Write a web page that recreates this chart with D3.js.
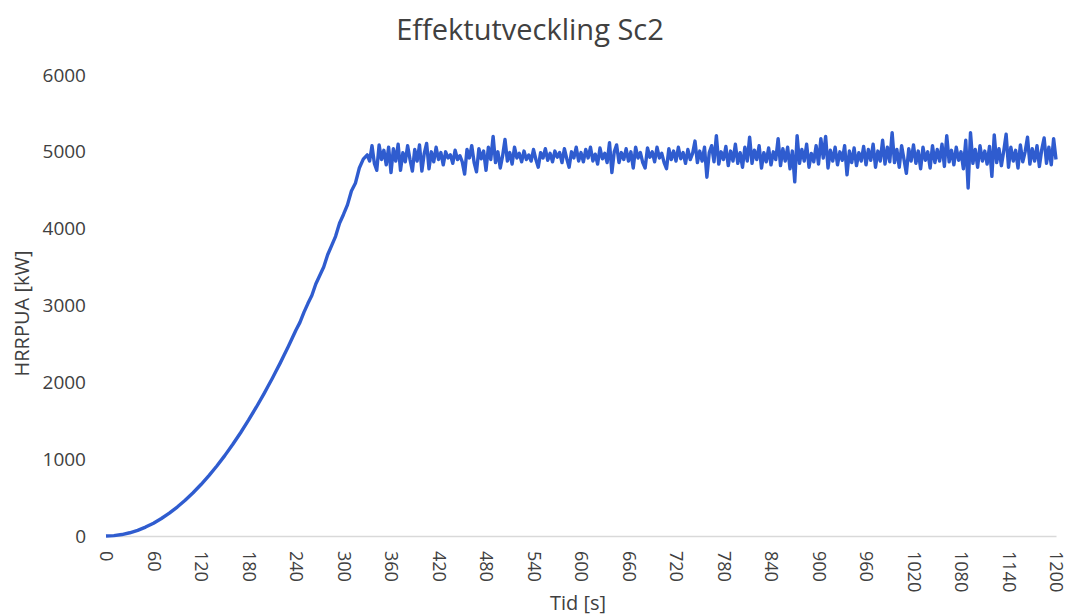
<!DOCTYPE html>
<html lang="sv">
  <head>
    <meta charset="UTF-8" />
    <title>Effektutveckling Sc2</title>
    <script src="https://cdn.jsdelivr.net/npm/d3@7"></script>
    <style>
      body { margin: 0; background: #fff; }
      text { font-family: 'Open Sans', sans-serif; fill: #404040; }
    </style>
  </head>
  <body>
    <div class="chart"></div>
    <script>
      // tillväxtfas (tid, effekt)
      var rampTime = [0, 10, 20, 30, 40, 50, 60, 70, 80, 90, 100, 110, 120, 130, 140, 150, 160, 170, 180, 190, 200,
        205, 210, 215, 220, 225, 230, 235, 240, 245, 250, 255, 260, 265, 270, 275, 280, 285, 290, 295, 300,
        305, 310, 315, 320, 325]
      var rampHrr = [0, 5, 19, 42, 74, 116, 167, 228, 298, 377, 465, 563, 670, 786, 911, 1046, 1190, 1344, 1507, 1679, 1860,
        1955, 2050, 2150, 2250, 2355, 2460, 2570, 2680, 2780, 2910, 3025, 3130, 3280, 3390, 3500, 3660, 3780, 3900, 4070, 4185,
        4310, 4490, 4590, 4790, 4905]

      // stationär fas, ett värde var 3:e sekund från 330 s
      var plateauStart = 330
      var plateauStep = 3
      var plateauHrr = [
        4960, 4880, 5080, 4850, 4760, 5090, 4900, 5020, 4830, 5060,
        4730, 5040, 4880, 5100, 4760, 4990, 4870, 5080, 4900, 4750,
        5030, 4880, 5090, 4750, 4980, 5110, 4780, 5000, 4870, 5060,
        4900, 4990, 4830, 5000, 4920, 4960, 4850, 5020, 4900, 4950,
        4870, 4710, 5030, 4920, 5080, 4860, 4740, 5040, 4910, 5010,
        4760, 5060, 4900, 5200, 4860, 5000, 4790, 4950, 5160, 4880,
        4990, 4840, 5060, 4920, 4980, 4870, 5010, 4900, 4960, 4880,
        5030, 4900, 4800, 4990, 4920, 5040, 4890, 4980, 4870, 5010,
        4930, 4990, 4860, 5040, 4910, 4800, 5000, 4920, 5060, 4880,
        4990, 4870, 5030, 4920, 5060, 4880, 4970, 4840, 5050, 4910,
        4980, 4860, 5120, 4730, 5000, 5090, 4860, 4990, 4900, 5040,
        4880, 5000, 4790, 5060, 4920, 4990, 4860, 4790, 5050, 4930,
        5000, 4870, 5060, 4920, 4980, 4860, 4780, 5040, 4900, 5010,
        4880, 5060, 4910, 4990, 4850, 5030, 4900, 4980, 5140, 4860,
        5010, 4880, 5060, 4670, 4990, 5080, 4870, 5210, 4840, 5000,
        4900, 5070, 4820, 5010, 4880, 5100, 4850, 4990, 4800, 5060,
        4880, 5190, 4850, 5020, 4900, 5080, 4790, 4990, 4870, 5050,
        4830, 5000, 4900, 5170, 4820, 5040, 4880, 5060, 4780, 5010,
        4610, 5210, 4850, 5030, 4880, 5100, 4800, 4980, 4870, 5080,
        4840, 5170, 4920, 5200, 4790, 5020, 4880, 5060, 4830, 5000,
        4890, 5080, 4700, 5010, 4860, 5050, 4820, 4990, 4880, 5070,
        4830, 5030, 4890, 5100, 4800, 5010, 4880, 5150, 4840, 5060,
        4870, 5250, 4860, 5030, 4800, 5080, 4900, 4720, 5040, 4880,
        5090, 4850, 5010, 4780, 5060, 4890, 5000, 4790, 5080, 4860,
        5030, 4880, 5100, 4810, 5210, 4870, 5020, 4830, 5060, 4890,
        5000, 4780, 5150, 4530, 5250, 4850, 5030, 4800, 5080, 4880,
        5010, 4840, 5070, 4680, 5220, 4860, 5040, 4820, 5010, 5230,
        4800, 5060, 4880, 5020, 4790, 5090, 4870, 5000, 5190, 4840,
        5040, 4880, 5080, 4810, 5030, 5180, 4850, 5060, 4830, 5170,
        4900
      ]

      var xTicks = d3.range(0, 1201, 60)
      var yTicks = [0, 1000, 2000, 3000, 4000, 5000, 6000]

      // sätt ihop serien
      var series = rampTime.map((t, i) => [t, rampHrr[i]])
      plateauHrr.forEach((v, i) => series.push([plateauStart + i * plateauStep, v]))

      var width = 1075
      var height = 616
      var plotLeft = 106
      var plotRight = 1056
      var plotTop = 75
      var plotBottom = 536

      var svg = d3.select('.chart').append('svg').attr('width', width).attr('height', height)

      var x = d3.scaleLinear().domain([0, 1200]).range([plotLeft, plotRight])
      var y = d3.scaleLinear().domain([0, 6000]).range([plotBottom, plotTop])

      // x-axel
      var xAxis = svg
        .append('g')
        .attr('transform', `translate(0, ${plotBottom})`)
        .call(d3.axisBottom(x).tickValues(xTicks).tickFormat(d3.format('d')).tickSize(0).tickPadding(0))
      xAxis.select('.domain').attr('stroke', '#d9d9d9').attr('stroke-width', 1.5)
      xAxis
        .selectAll('.tick text')
        .attr('transform', 'translate(0, 15) rotate(90)')
        .attr('dy', '0.35em')
        .attr('y', 0)
        .attr('x', 0)
        .style('text-anchor', 'start')
        .style('font-size', '18px')
        .style('font-family', "'Open Sans', sans-serif")
        .attr('fill', '#404040')

      // y-axel
      var yAxis = svg
        .append('g')
        .attr('transform', `translate(${plotLeft}, 0)`)
        .call(d3.axisLeft(y).tickValues(yTicks).tickFormat(d3.format('d')).tickSize(0).tickPadding(20))
      yAxis.select('.domain').remove()
      yAxis
        .selectAll('.tick text')
        .style('font-size', '19px')
        .style('font-family', "'Open Sans', sans-serif")
        .attr('fill', '#404040')

      // linjen
      var line = d3
        .line()
        .x((d) => x(d[0]))
        .y((d) => y(d[1]))
      svg
        .append('path')
        .datum(series)
        .attr('fill', 'none')
        .attr('stroke', '#2f5ccf')
        .attr('stroke-width', 3.4)
        .attr('stroke-linejoin', 'round')
        .attr('d', line)

      // titlar
      svg
        .append('text')
        .attr('x', 530)
        .attr('y', 40)
        .attr('text-anchor', 'middle')
        .style('font-size', '29px')
        .text('Effektutveckling Sc2')

      svg
        .append('text')
        .attr('transform', `translate(29, ${(plotTop + plotBottom) / 2 + 8}) rotate(-90)`)
        .attr('text-anchor', 'middle')
        .style('font-size', '20px')
        .text('HRRPUA [kW]')

      svg
        .append('text')
        .attr('x', 578)
        .attr('y', 610)
        .attr('text-anchor', 'middle')
        .style('font-size', '20px')
        .text('Tid [s]')
    </script>
  </body>
</html>
